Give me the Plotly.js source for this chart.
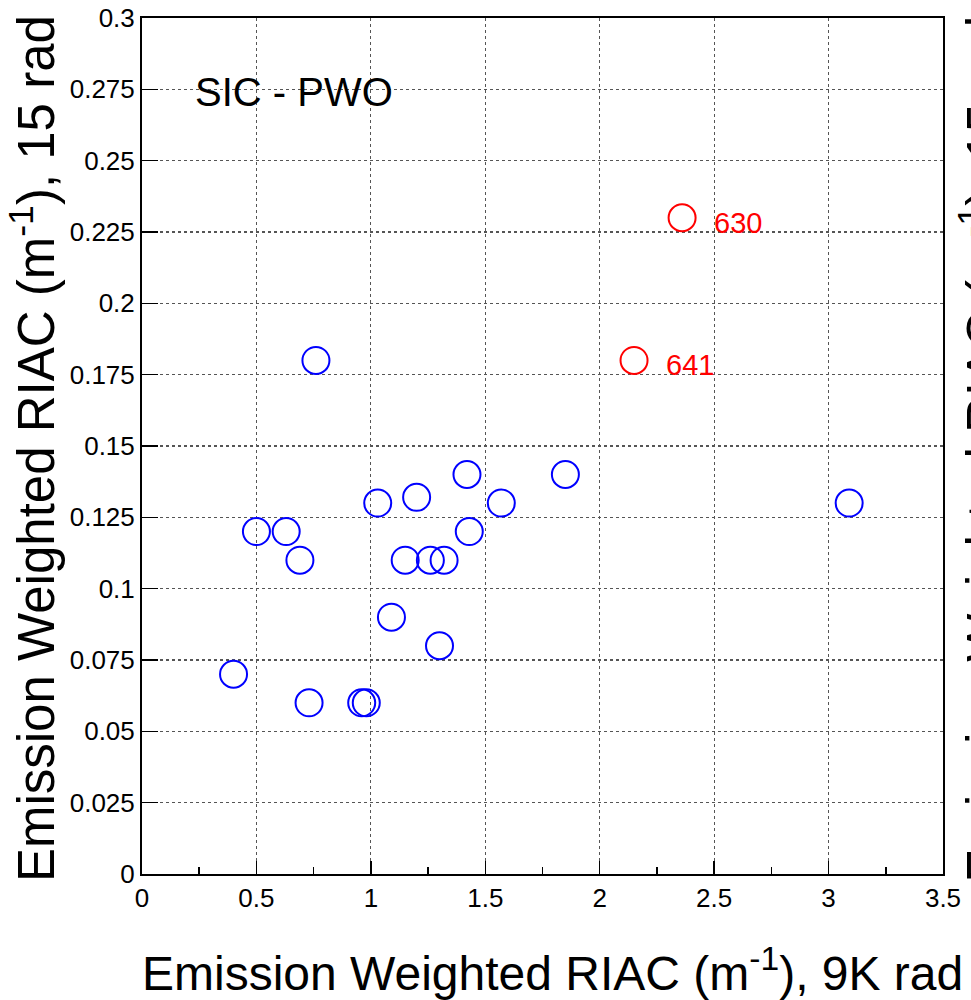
<!DOCTYPE html>
<html>
<head>
<meta charset="utf-8">
<script src="https://cdn.plot.ly/plotly-3.0.1.min.js"></script>
<style>html,body{margin:0;padding:0;background:#fff;}#chart{width:971px;height:1000px;}</style>
</head>
<body>
<div id="chart"></div>
<script>
// Blue points (other crystals)
var blueX = [0.40, 0.50, 0.63, 0.69, 0.73, 0.76, 0.96, 0.98, 1.03, 1.09, 1.15, 1.20, 1.26, 1.32, 1.30, 1.42, 1.43, 1.57, 1.85, 3.09];
var blueY = [0.07, 0.12, 0.12, 0.11, 0.06, 0.18, 0.06, 0.06, 0.13, 0.09, 0.11, 0.132, 0.11, 0.11, 0.08, 0.14, 0.12, 0.13, 0.14, 0.13];
// Red labelled points
var redX = [2.36, 2.15];
var redY = [0.23, 0.18];
var redLabels = ['630', '641'];

var xTicks = [0, 0.5, 1, 1.5, 2, 2.5, 3, 3.5];
var yTicks = [0, 0.025, 0.05, 0.075, 0.1, 0.125, 0.15, 0.175, 0.2, 0.225, 0.25, 0.275, 0.3];

var xTitle = 'Emission Weighted RIAC (m<sup>-1</sup>), 9K rad';
var yTitle = 'Emission Weighted RIAC (m<sup>-1</sup>), 15 rad';
var panelLabel = 'SIC - PWO';

var FONT = 'Liberation Sans, Arial, sans-serif';

var traces = [
  {x: blueX, y: blueY, type: 'scatter', mode: 'markers', cliponaxis: false,
   marker: {symbol: 'circle-open', size: 27, color: '#0000ff', line: {width: 2, color: '#0000ff'}}},
  {x: redX, y: redY, type: 'scatter', mode: 'markers', cliponaxis: false,
   marker: {symbol: 'circle-open', size: 27, color: '#ff0000', line: {width: 2, color: '#ff0000'}}}
];

var annotations = redLabels.map(function (t, i) {
  return {x: redX[i], y: redY[i], xref: 'x', yref: 'y', text: t, showarrow: false,
          xanchor: 'left', yanchor: 'middle', xshift: 30, yshift: -5,
          font: {family: FONT, size: 29, color: '#ff0000'}};
});
annotations.push({x: 0.19, y: 0.9136, xref: 'paper', yref: 'paper', text: panelLabel, showarrow: false,
  xanchor: 'center', yanchor: 'middle', font: {family: FONT, size: 40, color: '#000'}});
// axis titles
annotations.push({x: 0.512, y: -0.112, xref: 'paper', yref: 'paper', text: xTitle, showarrow: false,
  xanchor: 'center', yanchor: 'middle', font: {family: FONT, size: 48, color: '#000'}});
annotations.push({x: -0.136, y: 0.4965, xref: 'paper', yref: 'paper', text: yTitle, showarrow: false,
  textangle: -90, xanchor: 'center', yanchor: 'middle', font: {family: FONT, size: 51, color: '#000'}});
// neighbouring panel's title, clipped at the right edge
annotations.push({x: 1.006, y: 0.4965, xref: 'paper', yref: 'paper', textangle: -90,
  text: yTitle, showarrow: false,
  xanchor: 'left', yanchor: 'middle', font: {family: FONT, size: 51, color: '#000'}});

var layout = {
  width: 971, height: 1000,
  margin: {l: 142, r: 28, t: 18, b: 126},
  paper_bgcolor: '#fff', plot_bgcolor: '#fff',
  showlegend: false,
  xaxis: {
    range: [0, 3.5], tickvals: xTicks, ticktext: xTicks.map(String),
    ticks: 'inside', ticklen: 13, tickwidth: 1.5, tickcolor: '#000',
    minor: {dtick: 0.25, ticks: 'inside', ticklen: 7, tickwidth: 1.5, tickcolor: '#000', showgrid: false},
    showline: true, linecolor: '#000', linewidth: 2, mirror: true,
    showgrid: true, gridcolor: '#555', griddash: 'dot', gridwidth: 1.2,
    zeroline: false,
    tickfont: {family: FONT, size: 26, color: '#000'}
  },
  yaxis: {
    range: [0, 0.3], tickvals: yTicks, ticktext: yTicks.map(String),
    ticks: 'inside', ticklen: 16, tickwidth: 1.5, tickcolor: '#000',
    showline: true, linecolor: '#000', linewidth: 2, mirror: true,
    showgrid: true, gridcolor: '#555', griddash: 'dot', gridwidth: 1.2,
    zeroline: false,
    tickfont: {family: FONT, size: 26, color: '#000'}
  },
  annotations: annotations
};

Plotly.newPlot('chart', traces, layout, {displayModeBar: false, staticPlot: true});
</script>
</body>
</html>
